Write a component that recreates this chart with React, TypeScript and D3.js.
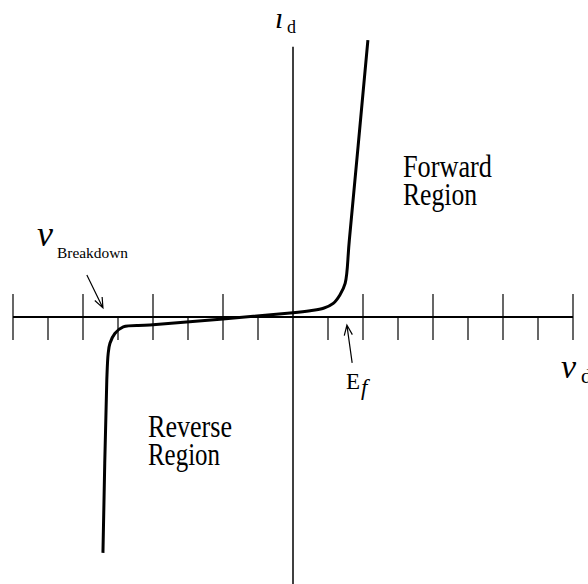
import React from "react";
import * as d3 from "d3";

// diode I-V curve (v in tick units, i in same units)
const curveV = [-5.43, -5.32, -5.28, -5.23, -5.09, -4.85, -4.09, 0, 0.49, 0.87, 1.15, 1.34, 1.49, 1.61, 2.14];
const curveI = [-6.74, -1.8, -1.04, -0.75, -0.47, -0.28, -0.23, 0.12, 0.18, 0.25, 0.39, 0.63, 0.96, 2.2, 7.91];

const tickValues = d3.range(-8, 9);

const W = 588, H = 584;

function arrowPath(x1: number, y1: number, x2: number, y2: number) {
  // open arrow head at (x2,y2)
  const a = Math.atan2(y2 - y1, x2 - x1);
  const len = 11, spread = 0.38;
  const p1 = [x2 - len * Math.cos(a - spread), y2 - len * Math.sin(a - spread)];
  const p2 = [x2 - len * Math.cos(a + spread), y2 - len * Math.sin(a + spread)];
  return `M${x1},${y1}L${x2},${y2}M${p1[0]},${p1[1]}L${x2},${y2}L${p2[0]},${p2[1]}`;
}

export default function App() {
  const x = d3.scaleLinear().domain([-8, 8]).range([13, 573]);
  const y = d3.scaleLinear().domain([-8, 8]).range([597, 37]);

  const line = d3.line<number>()
    .x(d => x(curveV[d]))
    .y(d => y(curveI[d]))
    .curve(d3.curveCatmullRom.alpha(0.5));

  const serif = "'Liberation Serif', 'DejaVu Serif', serif";

  return (
    <svg width={W} height={H} style={{ position: "absolute", left: 0, top: 0, background: "#fff" }}>
      {/* axes */}
      <line x1={x(-8)} x2={x(8)} y1={y(0)} y2={y(0)} stroke="#000" strokeWidth={2} />
      <line x1={x(0)} x2={x(0)} y1={y(7.72)} y2={H} stroke="#000" strokeWidth={1.5} />
      {tickValues.filter(t => t !== 0).map(t => (
        <line key={t} x1={x(t)} x2={x(t)}
          y1={t % 2 === 0 ? y(0) - 23 : y(0)} y2={y(0) + 23}
          stroke="#000" strokeWidth={1.2} />
      ))}

      {/* curve */}
      <path d={line(d3.range(curveV.length)) || ""} fill="none" stroke="#000" strokeWidth={3} strokeLinejoin="round" />

      {/* arrows */}
      <path d={arrowPath(x(-5.89), y(1.2), x(-5.43), y(0.26))} fill="none" stroke="#000" strokeWidth={1.2} />
      <path d={arrowPath(x(1.69), y(-1.31), x(1.54), y(-0.23))} fill="none" stroke="#000" strokeWidth={1.2} />

      {/* labels */}
      <g fontFamily={serif} fill="#000">
        <text x={275} y={28} fontSize={30} fontStyle="italic">ı</text>
        <text x={287} y={33} fontSize={18}>d</text>

        <text x={37} y={246} fontSize={36} fontStyle="italic">v</text>
        <text x={57} y={257.5} fontSize={14} textLength={71} lengthAdjust="spacingAndGlyphs">Breakdown</text>

        <text x={561} y={378} fontSize={34} fontStyle="italic">v</text>
        <text x={581} y={383} fontSize={21}>d</text>

        <text x={346} y={388.5} fontSize={23}>E</text>
        <text x={361} y={395} fontSize={23} fontStyle="italic">f</text>

        <text x={403} y={177} fontSize={31} textLength={89} lengthAdjust="spacingAndGlyphs">Forward</text>
        <text x={403} y={205} fontSize={31} textLength={74} lengthAdjust="spacingAndGlyphs">Region</text>
        <text x={148} y={437} fontSize={31} textLength={84} lengthAdjust="spacingAndGlyphs">Reverse</text>
        <text x={148} y={465} fontSize={31} textLength={72} lengthAdjust="spacingAndGlyphs">Region</text>
      </g>
    </svg>
  );
}
